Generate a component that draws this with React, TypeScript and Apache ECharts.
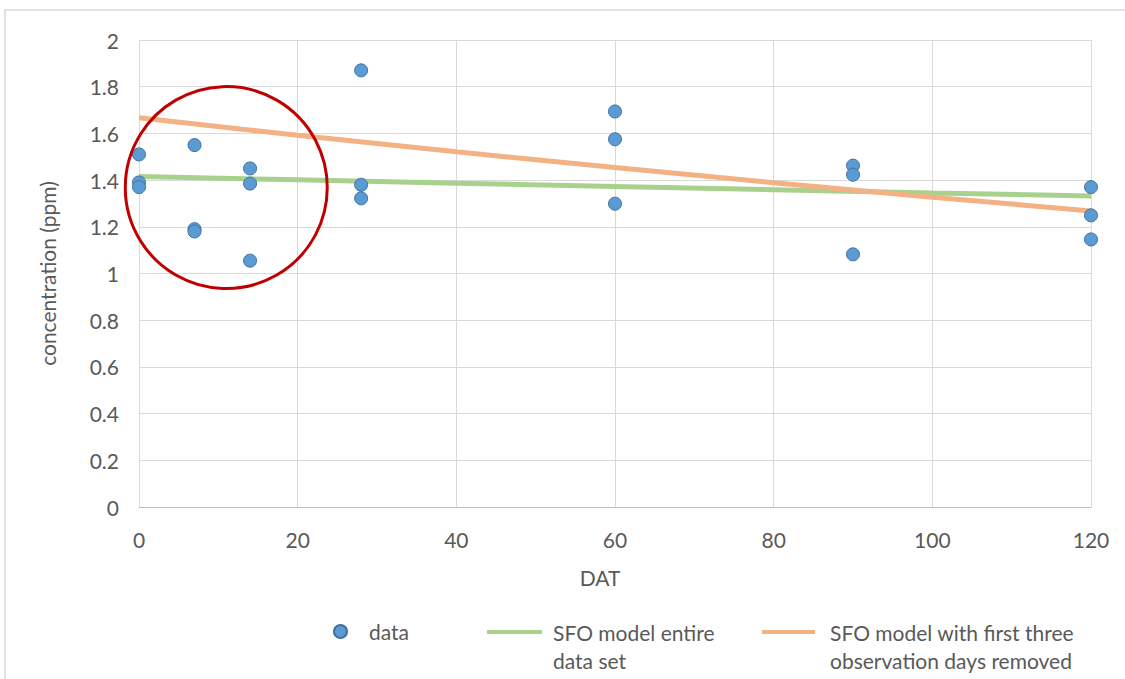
import React, { useEffect, useRef } from "react";
import * as echarts from "echarts";

// observed data (DAT, concentration ppm)
const dataDays = [0, 0, 0, 7, 7, 7, 14, 14, 14, 28, 28, 28, 60, 60, 60, 90, 90, 90, 120, 120, 120];
const dataConc = [1.51, 1.39, 1.37, 1.55, 1.19, 1.18, 1.45, 1.385, 1.055, 1.87, 1.38, 1.322, 1.694, 1.575, 1.299, 1.462, 1.423, 1.082, 1.37, 1.249, 1.146];

// model curves
const modelDays = [0, 20, 40, 60, 80, 100, 120];
const sfoEntire = [1.415, 1.401, 1.387, 1.373, 1.359, 1.345, 1.332];
const sfoReduced = [1.667, 1.592, 1.521, 1.454, 1.389, 1.327, 1.268];

const xTicks = { min: 0, max: 120, interval: 20 };
const yTicks = { min: 0, max: 2, interval: 0.2 };

const FONT = "Lato";
const GREY = "#595959";
const FS = 21;

export default function App() {
  const ref = useRef<HTMLDivElement>(null);
  useEffect(() => {
    document.body.style.margin = "0";
    const chart = echarts.init(ref.current!, null, { renderer: "svg" });
    const option: any = {
      animation: false,
      backgroundColor: "#ffffff",
      textStyle: { fontFamily: FONT },
      grid: { left: 139, right: 34, top: 40, bottom: 172 },
      xAxis: {
        type: "value",
        ...xTicks,
        name: "DAT",
        nameLocation: "middle",
        nameGap: 60,
        nameTextStyle: { color: GREY, fontSize: FS, fontFamily: FONT, padding: [0, 30, 0, 0] },
        axisLine: { show: true, lineStyle: { color: "#BFBFBF", width: 1 } },
        axisTick: { show: false },
        axisLabel: { color: GREY, fontSize: FS, fontFamily: FONT, margin: 22 },
        splitLine: { show: true, lineStyle: { color: "#D9D9D9", width: 1 } },
      },
      yAxis: {
        type: "value",
        ...yTicks,
        name: "concentration (ppm)",
        nameLocation: "middle",
        nameGap: 81,
        nameTextStyle: { color: GREY, fontSize: FS, fontFamily: FONT },
        axisLine: { show: false },
        axisTick: { show: false },
        axisLabel: { color: GREY, fontSize: FS, fontFamily: FONT, margin: 20 },
        splitLine: { show: true, lineStyle: { color: "#D9D9D9", width: 1 } },
      },
      legend: [
        {
          data: [{ name: "data", icon: "circle" }],
          left: 333,
          top: 621,
          padding: 0,
          itemWidth: 13,
          itemHeight: 13,
          textStyle: { color: GREY, fontSize: FS, fontFamily: FONT, padding: [0, 0, 0, 17] },
        },
        {
          data: [{ name: "SFO model entire\ndata set", icon: "rect" }],
          left: 487,
          top: 590,
          padding: 0,
          itemWidth: 55,
          itemHeight: 4,
          formatter: (n: string) => "\u00a0\n" + n,
          textStyle: { color: GREY, fontSize: FS, fontFamily: FONT, lineHeight: 28, padding: [0, 0, 0, 6] },
        },
        {
          data: [{ name: "SFO model with first three\nobservation days removed", icon: "rect" }],
          left: 762,
          top: 590,
          padding: 0,
          itemWidth: 53,
          itemHeight: 4,
          formatter: (n: string) => "\u00a0\n" + n,
          textStyle: { color: GREY, fontSize: FS, fontFamily: FONT, lineHeight: 28, padding: [0, 0, 0, 10] },
        },
      ],
      series: [
        {
          name: "SFO model entire\ndata set",
          type: "line",
          data: modelDays.map((d, i) => [d, sfoEntire[i]]),
          showSymbol: false,
          symbol: "none",
          color: "#A9D18E",
          lineStyle: { color: "#A9D18E", width: 5 },
          itemStyle: { color: "#A9D18E" },
          z: 2,
        },
        {
          name: "SFO model with first three\nobservation days removed",
          type: "line",
          data: modelDays.map((d, i) => [d, sfoReduced[i]]),
          showSymbol: false,
          symbol: "none",
          color: "#F4B183",
          lineStyle: { color: "#F4B183", width: 5 },
          itemStyle: { color: "#F4B183" },
          z: 3,
        },
        {
          name: "data",
          type: "scatter",
          data: dataDays.map((d, i) => [d, dataConc[i]]),
          symbolSize: 13,
          itemStyle: { color: "#5B9BD5", borderColor: "#41719C", borderWidth: 1, opacity: 1 },
          z: 4,
        },
      ],
    };
    chart.setOption(option);
    const [cx, cy] = chart.convertToPixel({ gridIndex: 0 }, [11, 1.368]) as number[];
    chart.setOption({
      graphic: [
        {
          type: "rect",
          shape: { x: 5, y: 10, width: 1130, height: 700 },
          style: { fill: "none", stroke: "#D9D9D9", lineWidth: 1.5 },
          z: 0,
          silent: true,
        },
        {
          type: "circle",
          shape: { cx, cy, r: 101 },
          style: { fill: "none", stroke: "#C00000", lineWidth: 3 },
          z: 100,
          silent: true,
        },
      ],
    });
    return () => chart.dispose();
  }, []);
  return <div ref={ref} style={{ width: 1125, height: 679 }} />;
}
